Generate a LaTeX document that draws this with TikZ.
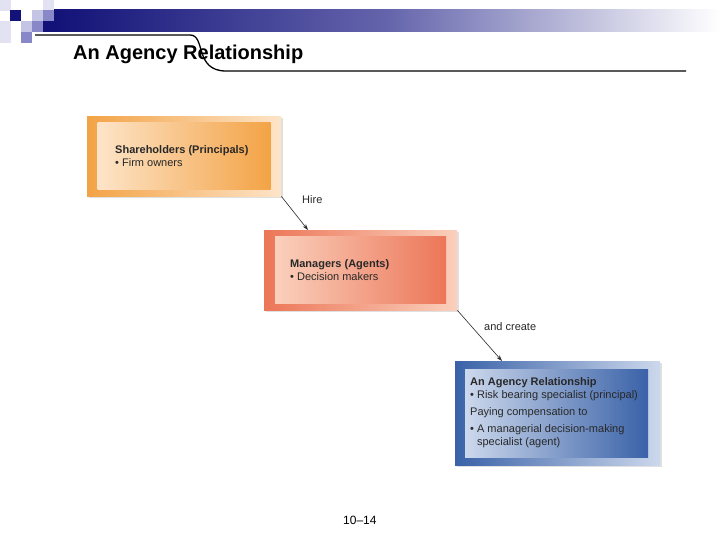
\documentclass[tikz,border=0pt]{standalone}
\usepackage{fontspec}
\setmainfont{Liberation Sans}
\usetikzlibrary{arrows.meta,calc,positioning}
\definecolor{BarNavy}{RGB}{18,18,120}
\definecolor{BarMid}{RGB}{100,100,172}
\definecolor{TileLight}{RGB}{226,226,242}
\definecolor{TileSoft}{RGB}{196,196,228}
\definecolor{TileMid}{RGB}{136,136,200}
\definecolor{OrangeDeep}{RGB}{243,163,70}
\definecolor{OrangeLight}{RGB}{253,228,200}
\definecolor{SalmonDeep}{RGB}{236,118,88}
\definecolor{SalmonLight}{RGB}{250,208,188}
\definecolor{BlueDeep}{RGB}{58,98,168}
\definecolor{BlueLight}{RGB}{204,216,236}
\definecolor{InkGray}{RGB}{40,40,40}

\begin{document}
\begin{tikzpicture}[x=1pt,y=-1pt,>={Stealth[length=6pt,width=4pt]},
    outerbox/.style={anchor=north west,inner sep=0pt,draw=none},
    innerbox/.style={inner sep=0pt,draw=none},
    boxtext/.style={anchor=base west,align=left,text=InkGray,
      font=\fontsize{11}{13}\selectfont,inner sep=0pt}]
      \useasboundingbox (0,0) rectangle (720,540);
      % header bar and tiles
      \shade[left color=BarNavy,right color=white,middle color=BarMid] (54,10) rectangle (720,32);
      \foreach \tx/\ty/\tc in {0/0/TileLight,10/10/BarNavy,32/10/TileSoft,
          43/0/TileLight,43/10/TileMid,43/21/BarNavy,21/21/TileSoft,32/21/TileMid,
          21/32/TileMid,0/21/TileLight,0/32/TileLight}
        \fill[\tc] (\tx,\ty) rectangle ++(11,11);
      \draw[line width=1.3pt] (35,35) -- (190,35)
        .. controls (206,35) and (194,71) .. (226,71) -- (686,71);
      \node[anchor=base west,inner sep=0pt,
        font=\bfseries\fontsize{20}{24}\selectfont] (title) at (73,60)
        {An Agency Relationship};
      % soft shadows
      \fill[black!12] (89,118) rectangle (283,198);
      \fill[black!12] (266,232) rectangle (459,312);
      \fill[black!12] (457,363) rectangle (662,467);
      % boxes
      \node[outerbox,minimum width=194pt,minimum height=80pt,
        left color=OrangeDeep,right color=OrangeLight] (share) at (87,116) {};
      \node[innerbox,minimum width=173pt,minimum height=67pt,
        left color=OrangeLight,right color=OrangeDeep] (shareIn) at (share.center) {};
      \node[outerbox,minimum width=193pt,minimum height=80pt,
        left color=SalmonDeep,right color=SalmonLight] (mgr) at (264,230) {};
      \node[innerbox,minimum width=171pt,minimum height=67pt,
        left color=SalmonLight,right color=SalmonDeep] (mgrIn) at (mgr.center) {};
      \node[outerbox,minimum width=205pt,minimum height=104pt,
        left color=BlueDeep,right color=BlueLight] (agency) at (455,361) {};
      \node[innerbox,minimum width=183pt,minimum height=88pt,
        left color=BlueLight,right color=BlueDeep] (agencyIn) at ($(agency.center)+(-1,0)$) {};
      % texts
      \node[boxtext] (shareTxt) at (115,167)
        {\textbf{Shareholders (Principals)}\\ • Firm owners};
      \node[boxtext] (mgrTxt) at (290,280)
        {\textbf{Managers (Agents)}\\ • Decision makers};
      \node[boxtext] (agencyTxt) at (470,398)
        {\textbf{An Agency Relationship}\\ • Risk bearing specialist (principal)};
      \node[boxtext] (payTxt) at (470,415) {Paying compensation to};
      \node[boxtext] (agentTxt) at (470,445)
        {• A managerial decision-making\\ \hphantom{• }specialist (agent)};
      % arrows
      \draw[->,InkGray,line width=0.6pt] (share.south east) -- ($(mgr.north west)+(44,0)$);
      \draw[->,InkGray,line width=0.6pt] (mgr.south east) -- ($(agency.north west)+(47,0)$);
      \node[boxtext] (hire) at (302,204) {Hire};
      \node[boxtext] (create) at (484,330) {and create};
      \node[anchor=base west,inner sep=0pt,font=\fontsize{12}{14}\selectfont] (pageNo)
        at (343,524) {10–14};
    \end{tikzpicture}
\end{document}
